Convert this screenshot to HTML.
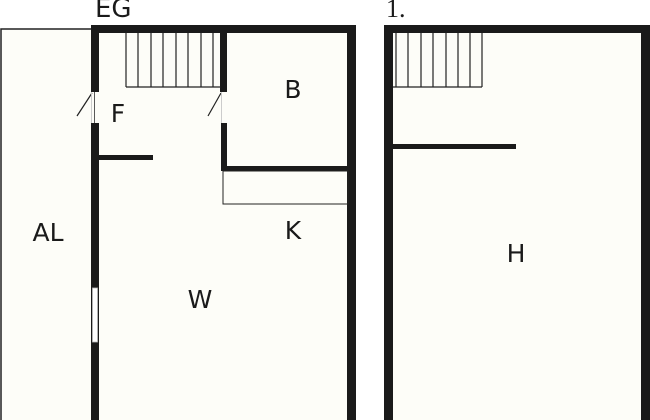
<!DOCTYPE html>
<html><head><meta charset="utf-8"><style>
html,body{margin:0;padding:0;background:#fff;}
svg{display:block}
text{font-family:"DejaVu Sans","Liberation Sans",sans-serif;fill:#1a1a1a}
</style></head><body>
<svg width="650" height="420" viewBox="0 0 650 420" xmlns="http://www.w3.org/2000/svg">
<rect width="650" height="420" fill="#fff"/>
<!-- AL -->
<rect x="1" y="29" width="94" height="400" fill="#fdfdf8" stroke="#222" stroke-width="1.5"/>
<!-- EG fill -->
<rect x="95" y="29" width="257" height="400" fill="#fdfdf8"/>
<!-- 1. fill -->
<rect x="388" y="29" width="262" height="400" fill="#fdfdf8"/>
<g fill="#1a1a1a">
<!-- EG walls -->
<rect x="91" y="25" width="265" height="8"/>
<rect x="91" y="25" width="8" height="67"/>
<rect x="91" y="123" width="8" height="297"/>
<rect x="347" y="25" width="9" height="395"/>
<rect x="99" y="155" width="54" height="5"/>
<rect x="220" y="33" width="7" height="59"/>
<rect x="221" y="123" width="6" height="48"/>
<rect x="221" y="166" width="127" height="5"/>
<!-- 1. walls -->
<rect x="384" y="25" width="266" height="8"/>
<rect x="384" y="25" width="9" height="395"/>
<rect x="641" y="25" width="9" height="395"/>
<rect x="393" y="144" width="123" height="5"/>
</g>
<!-- window -->
<rect x="92.5" y="288" width="5" height="54" fill="#fff" stroke="#bbb" stroke-width="0.8"/>
<!-- door swings -->
<line x1="77" y1="116" x2="92" y2="93" stroke="#222" stroke-width="1.2"/>
<line x1="208" y1="116" x2="221" y2="93" stroke="#222" stroke-width="1.2"/>
<line x1="91.5" y1="92" x2="91.5" y2="123" stroke="#ccc" stroke-width="1"/>
<line x1="221.5" y1="92" x2="221.5" y2="123" stroke="#ccc" stroke-width="1"/>
<!-- K counter -->
<rect x="223" y="171" width="125" height="33" fill="none" stroke="#222" stroke-width="1"/>
<!-- EG stairs -->
<g stroke="#222" stroke-width="1.2" fill="none">
<line x1="126" y1="87" x2="221" y2="87"/>
<line x1="126" y1="33" x2="126" y2="87"/>
<line x1="138" y1="33" x2="138" y2="87"/>
<line x1="151" y1="33" x2="151" y2="87"/>
<line x1="163" y1="33" x2="163" y2="87"/>
<line x1="176" y1="33" x2="176" y2="87"/>
<line x1="188" y1="33" x2="188" y2="87"/>
<line x1="201" y1="33" x2="201" y2="87"/>
<line x1="213" y1="33" x2="213" y2="87"/>
<!-- 1. stairs -->
<line x1="393" y1="87" x2="482" y2="87"/>
<line x1="396" y1="33" x2="396" y2="87"/>
<line x1="408" y1="33" x2="408" y2="87"/>
<line x1="421" y1="33" x2="421" y2="87"/>
<line x1="433" y1="33" x2="433" y2="87"/>
<line x1="446" y1="33" x2="446" y2="87"/>
<line x1="458" y1="33" x2="458" y2="87"/>
<line x1="470" y1="33" x2="470" y2="87"/>
<line x1="482" y1="33" x2="482" y2="87"/>
</g>
<!-- labels -->
<text x="95" y="17" font-size="26">EG</text>
<text x="386" y="17" font-size="26" style="font-family:'Liberation Serif',serif">1.</text>
<text x="118" y="122" font-size="25" text-anchor="middle">F</text>
<text x="293" y="98" font-size="25" text-anchor="middle">B</text>
<text x="293" y="239" font-size="25" text-anchor="middle">K</text>
<text x="48" y="241" font-size="25" text-anchor="middle">AL</text>
<text x="200" y="308" font-size="25" text-anchor="middle">W</text>
<text x="516" y="262" font-size="25" text-anchor="middle">H</text>
</svg>
</body></html>
